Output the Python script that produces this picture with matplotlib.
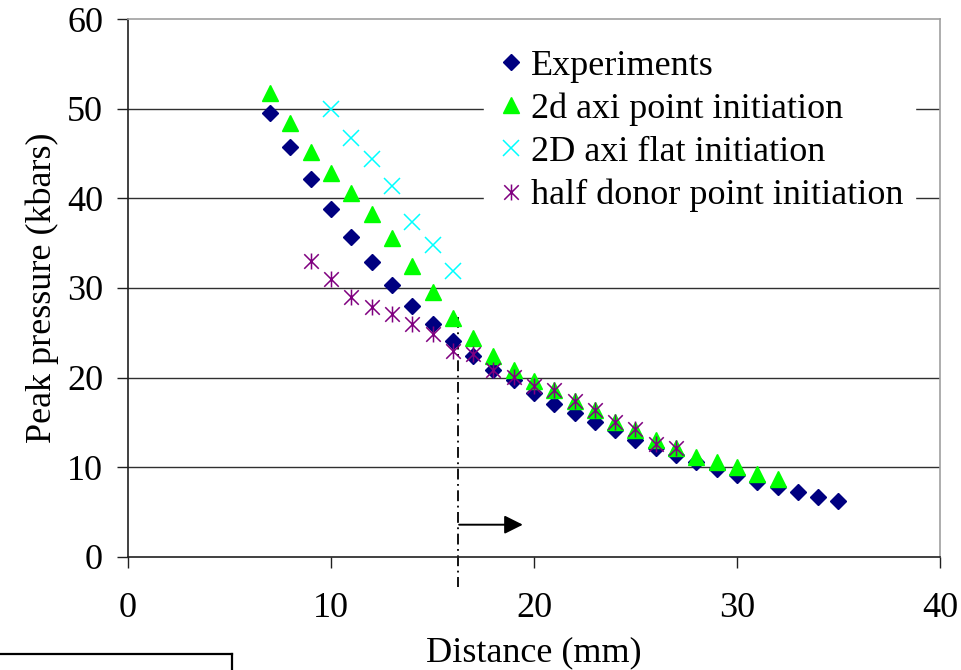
import matplotlib
matplotlib.use("Agg")
import matplotlib.pyplot as plt
from matplotlib.path import Path
from matplotlib.lines import Line2D

plt.rcParams["font.family"] = ["Liberation Serif", "DejaVu Serif"]

# measured peak pressure (kbars) against distance (mm)
exp_x = list(range(7, 36))
exp_y = [49.5, 45.7, 42.2, 38.8, 35.7, 32.9, 30.3, 28.0, 26.0, 24.1,
         22.4, 20.9, 19.7, 18.3, 17.1, 16.1, 15.1, 14.2, 13.1, 12.2,
         11.4, 10.6, 9.8, 9.1, 8.4, 7.8, 7.2, 6.7, 6.2]

# 2d axisymmetric, point initiation
axi_x = list(range(7, 33))
axi_y = [51.7, 48.4, 45.2, 42.8, 40.6, 38.2, 35.6, 32.4, 29.5, 26.7,
         24.4, 22.4, 20.8, 19.6, 18.6, 17.4, 16.4, 15.1, 14.2, 13.0,
         12.1, 11.2, 10.6, 10.0, 9.3, 8.7]

# 2D axisymmetric, flat initiation
flat_x = list(range(10, 17))
flat_y = [50.0, 46.7, 44.4, 41.4, 37.4, 34.8, 31.9]

# half donor, point initiation
half_x = list(range(9, 28))
half_y = [33.0, 31.0, 29.0, 27.9, 27.1, 26.0, 24.9, 23.0, 22.6, 20.9,
          20.1, 19.1, 18.6, 17.4, 16.4, 15.0, 14.3, 12.6, 12.1]

series_labels = ["Experiments", "2d axi point initiation",
                 "2D axi flat initiation", "half donor point initiation"]

x_ticks = [0, 10, 20, 30, 40]
y_ticks = [0, 10, 20, 30, 40, 50, 60]

# cut-off distance and the arrow pointing past it
cut_x = 16.26
cut_top = 26.8
arrow_y = 3.6
arrow_end = 19.45

FS = 26

# asterisk: an X with a vertical bar through it
star = Path([(-1, -1), (1, 1), (-1, 1), (1, -1), (0, -1.1), (0, 1.1)],
            [Path.MOVETO, Path.LINETO, Path.MOVETO, Path.LINETO,
             Path.MOVETO, Path.LINETO])

fig = plt.figure(figsize=(9.62, 6.70), dpi=100)
ax = fig.add_axes([0.1331, 0.1687, 0.8440, 0.8029])

ax.set_xlim(0, 40)
ax.set_ylim(0, 60)

for y in y_ticks[1:-1]:
    ax.axhline(y, color="#303030", linewidth=1.0, zorder=1)

ax.plot(exp_x, exp_y, linestyle="none", marker="D", markersize=8.1,
        color="#000080", label=series_labels[0], zorder=3)
ax.plot(axi_x, axi_y, linestyle="none", marker="^", markersize=11.5,
        color="#00FF00", label=series_labels[1], zorder=4)
ax.plot(flat_x, flat_y, linestyle="none", marker="x", markersize=11.5,
        markeredgewidth=1.1, color="#00FFFF", label=series_labels[2],
        zorder=5)
ax.plot(half_x, half_y, linestyle="none", marker=star, markersize=11.5,
        markeredgewidth=1.1, color="#800080", label=series_labels[3],
        zorder=6)

ax.plot([cut_x, cut_x], [cut_top, -3.3], color="black", linewidth=1.3,
        dashes=(6, 2.5, 1, 2.5), clip_on=False, zorder=2)
ax.annotate("", xy=(arrow_end, arrow_y), xytext=(cut_x + 0.05, arrow_y),
            arrowprops=dict(arrowstyle="-|>", color="black", lw=1.4,
                            mutation_scale=28, shrinkA=0, shrinkB=0))

ax.set_xticks(x_ticks)
ax.set_yticks(y_ticks)
ax.tick_params(axis="both", direction="out", length=8, width=1.0,
               labelsize=FS, color="#202020")
ax.tick_params(axis="x", pad=17)
ax.tick_params(axis="y", pad=10)

for side in ["left", "bottom"]:
    ax.spines[side].set_color("#202020")
    ax.spines[side].set_linewidth(1.2)
for side in ["top", "right"]:
    ax.spines[side].set_color("#a0a0a0")
    ax.spines[side].set_linewidth(1.2)

ax.set_xlabel("Distance (mm)", fontsize=FS, labelpad=8.5)
ax.set_ylabel("Peak pressure (kbars)", fontsize=FS, labelpad=6)

leg = ax.legend(loc="center", bbox_to_anchor=(0.704, 0.792), fontsize=FS,
                frameon=True, facecolor="white", edgecolor="white",
                framealpha=1, fancybox=False, handlelength=0.8,
                handletextpad=0.15, labelspacing=0.27, borderpad=0.33,
                borderaxespad=0)
leg.set_zorder(7)

# stray box outline along the lower left edge
fig.add_artist(Line2D([0, 232 / 962], [1 - 654 / 670, 1 - 654 / 670],
                      color="black", linewidth=1.6))
fig.add_artist(Line2D([232 / 962, 232 / 962], [1 - 654 / 670, 0],
                      color="black", linewidth=1.6))

fig.savefig("out.png", dpi=100)
